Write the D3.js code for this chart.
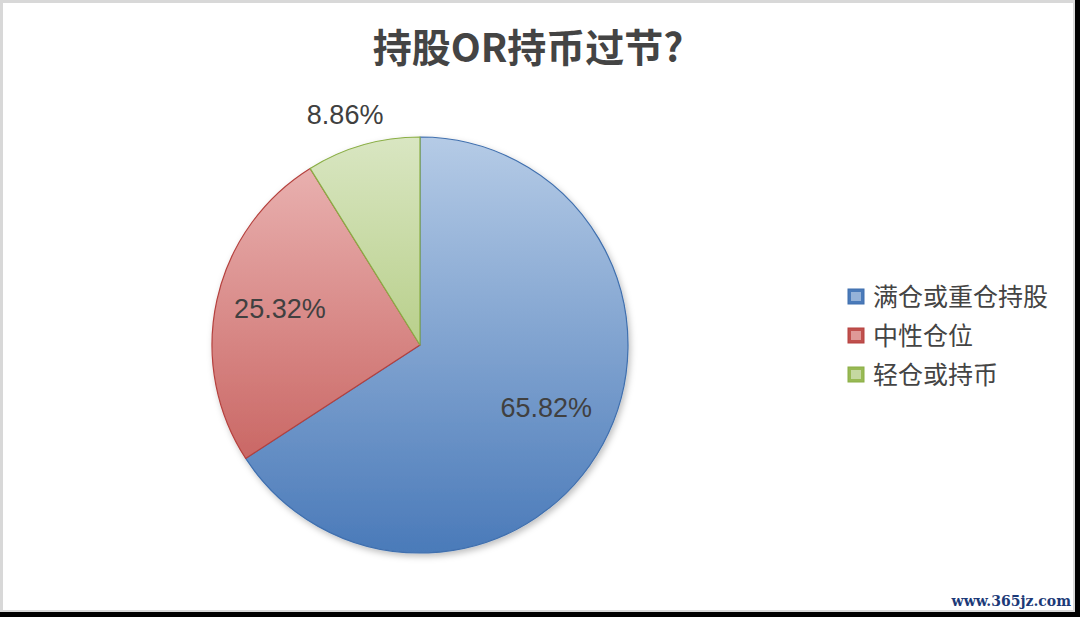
<!DOCTYPE html>
<html>
<head>
<meta charset="utf-8">
<script src="https://cdn.jsdelivr.net/npm/d3@7"></script>
<style>
  html, body { margin: 0; padding: 0; background: #000; }
  svg { display: block; }
</style>
</head>
<body>
<svg id="chart" width="1080" height="617"></svg>
<script>
// chart data
const categories = ["满仓或重仓持股", "中性仓位", "轻仓或持币"];
const shares = [65.82, 25.32, 8.86];
const labels = ["65.82%", "25.32%", "8.86%"];
const topColors = ["#b5cbe6", "#ecb8b7", "#d9e6c2"];
const bottomColors = ["#4a7ab9", "#c0504d", "#98b954"];
const strokeColors = ["#3f6fae", "#b5413e", "#8aae45"];

const svg = d3.select("#chart");
const W = 1080, H = 617;

// frame: white sheet, grey edge, black shadow on right/bottom
svg.append("rect").attr("width", W).attr("height", H).attr("fill", "#000");
svg.append("rect").attr("x", 0).attr("y", 0).attr("width", 1075).attr("height", 612).attr("fill", "#d8d8d8");
svg.append("rect").attr("x", 3).attr("y", 3).attr("width", 1070).attr("height", 607).attr("fill", "#fff");

const defs = svg.append("defs");
const cx = 420, cy = 345, r = 208;

// vertical gradient per slice, in pie coordinates
categories.forEach(function(c, i) {
  const g = defs.append("linearGradient")
    .attr("id", "grad" + i)
    .attr("gradientUnits", "userSpaceOnUse")
    .attr("x1", 0).attr("y1", -r).attr("x2", 0).attr("y2", r);
  g.append("stop").attr("offset", "0%").attr("stop-color", topColors[i]);
  g.append("stop").attr("offset", "100%").attr("stop-color", bottomColors[i]);
});

const shadow = defs.append("filter").attr("id", "shadow")
  .attr("x", "-10%").attr("y", "-10%").attr("width", "120%").attr("height", "120%");
shadow.append("feDropShadow").attr("dx", 2).attr("dy", 3).attr("stdDeviation", 3)
  .attr("flood-color", "#000").attr("flood-opacity", 0.25);

// title
svg.append("text")
  .attr("x", 528).attr("y", 62)
  .attr("text-anchor", "middle")
  .attr("font-family", "'Noto Sans CJK SC', 'Liberation Sans', sans-serif")
  .attr("font-weight", "bold")
  .attr("font-size", 39)
  .attr("fill", "#444")
  .text("持股OR持币过节?");

const pie = d3.pie().sort(null).value(d => d)(shares);
const arc = d3.arc().innerRadius(0).outerRadius(r);

const pieG = svg.append("g").attr("transform", `translate(${cx},${cy})`);

pieG.append("g").attr("filter", "url(#shadow)")
  .selectAll("path")
  .data(pie)
  .join("path")
  .attr("d", arc)
  .attr("fill", (d, i) => `url(#grad${i})`)
  .attr("stroke", (d, i) => strokeColors[i])
  .attr("stroke-width", 1.2)
  .attr("stroke-linejoin", "round");

// labels: big slices inside, small slice outside
const inner = d3.arc().innerRadius(r * 0.69).outerRadius(r * 0.69);
const outer = d3.arc().innerRadius(r * 1.17).outerRadius(r * 1.17);

pieG.selectAll("text.lbl")
  .data(pie)
  .join("text")
  .attr("class", "lbl")
  .attr("transform", (d, i) => {
    const small = shares[i] < 10;
    const p = (small ? outer : inner).centroid(d);
    return `translate(${p[0] + (small ? -8 : 0)},${p[1] + (small ? 3 : -6)})`;
  })
  .attr("text-anchor", "middle")
  .attr("dy", "0.36em")
  .attr("font-family", "'Liberation Sans', Arial, sans-serif")
  .attr("font-size", 27)
  .attr("fill", "#404040")
  .text((d, i) => labels[i]);

// legend
const legend = svg.append("g").attr("transform", "translate(848,297)");
const rowH = 39;
const item = legend.selectAll("g")
  .data(categories)
  .join("g")
  .attr("transform", (d, i) => `translate(0,${i * rowH})`);

item.append("rect")
  .attr("x", 0).attr("y", -8).attr("width", 16).attr("height", 15)
  .attr("fill", (d, i) => bottomColors[i])
  .attr("stroke", (d, i) => strokeColors[i])
  .attr("stroke-width", 1);
item.append("rect")
  .attr("x", 3).attr("y", -5).attr("width", 10).attr("height", 9)
  .attr("fill", (d, i) => topColors[i])
  .attr("opacity", 0.7);

item.append("text")
  .attr("x", 25).attr("y", 0).attr("dy", "0.36em")
  .attr("font-family", "'Noto Sans CJK SC', sans-serif")
  .attr("font-size", 25)
  .attr("fill", "#444")
  .text(d => d);

// watermark
svg.append("text")
  .attr("x", 1071).attr("y", 606)
  .attr("text-anchor", "end")
  .attr("font-family", "'DejaVu Serif', serif")
  .attr("font-weight", "bold")
  .attr("font-size", 14)
  .attr("fill", "#1c3a78")
  .text("www.365jz.com");
</script>
</body>
</html>
